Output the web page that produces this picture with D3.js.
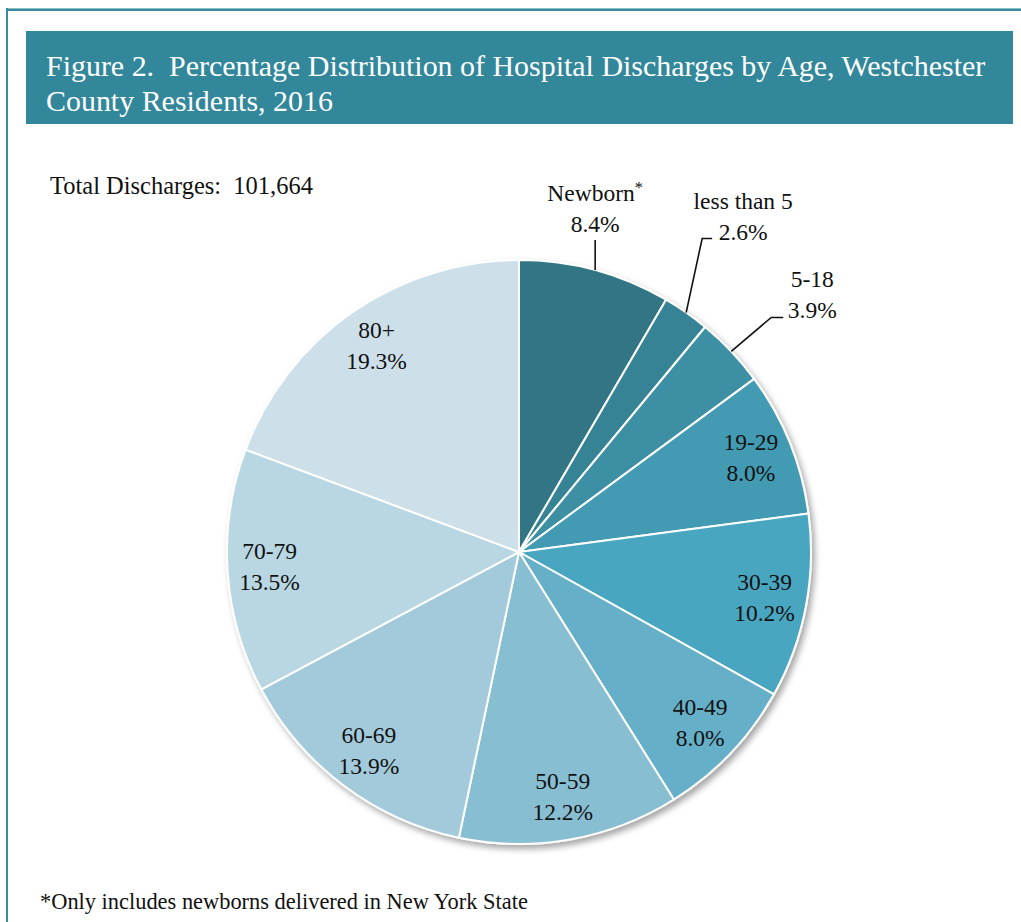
<!DOCTYPE html>
<html>
<head>
<meta charset="utf-8">
<script src="https://cdn.jsdelivr.net/npm/d3@7"></script>
<style>
  html, body { margin: 0; padding: 0; background: #fff; }
  svg { display: block; }
  text { font-family: "Liberation Serif", "DejaVu Serif", serif; }
</style>
</head>
<body>
<svg id="chart" width="1021" height="922"></svg>
<script>
// ---- data ----
const titleLines = ["Figure 2.  Percentage Distribution of Hospital Discharges by Age, Westchester", "County Residents, 2016"];
const totalLabel = "Total Discharges:  101,664";
const footnote = "*Only includes newborns delivered in New York State";
const categories = ["Newborn", "less than 5", "5-18", "19-29", "30-39", "40-49", "50-59", "60-69", "70-79", "80+"];
const values = [8.4, 2.6, 3.9, 8.0, 10.2, 8.0, 12.2, 13.9, 13.5, 19.3];
const sliceColors = ["#327686", "#368395", "#3c8fa4", "#429bb2", "#49a6c1", "#66afc8", "#88bed2", "#a3cadb", "#b9d7e2", "#cde0e9"];

// ---- layout ----
const W = 1021, H = 922;
const cx = 519, cy = 552, R = 292, labelR = 250;
const svg = d3.select("#chart");

const defs = svg.append("defs");
const f = defs.append("filter").attr("id", "shadow").attr("x", "-10%").attr("y", "-10%").attr("width", "125%").attr("height", "125%");
f.append("feDropShadow").attr("dx", 3).attr("dy", 4).attr("stdDeviation", 3).attr("flood-color", "#000").attr("flood-opacity", 0.35);

// frame
svg.append("line").attr("x1", 6).attr("x2", W).attr("y1", 8.5).attr("y2", 8.5).attr("stroke", "#8cc0cd").attr("stroke-width", 1);
svg.append("line").attr("x1", 6).attr("x2", W).attr("y1", 10).attr("y2", 10).attr("stroke", "#3a8a9e").attr("stroke-width", 2);
svg.append("line").attr("x1", 7).attr("x2", 7).attr("y1", 8).attr("y2", H).attr("stroke", "#3a8a9e").attr("stroke-width", 2);

// title bar
svg.append("rect").attr("x", 26).attr("y", 31).attr("width", 1013 - 26).attr("height", 124 - 31).attr("fill", "#33879b");

function fitText(sel, targetW) {
  const w = sel.node().getComputedTextLength();
  const fs = parseFloat(sel.attr("font-size"));
  const nfs = fs * targetW / w;
  sel.attr("font-size", nfs);
  return nfs;
}

const t1 = svg.append("text").attr("x", 46).attr("y", 76).attr("fill", "#fff").attr("font-size", 28)
  .style("white-space", "pre").text(titleLines[0]);
const tfs = fitText(t1, 940);
svg.append("text").attr("x", 46).attr("y", 111).attr("fill", "#fff").attr("font-size", tfs)
  .style("white-space", "pre").text(titleLines[1]);

const tot = svg.append("text").attr("x", 50).attr("y", 194).attr("fill", "#111").attr("font-size", 20)
  .style("white-space", "pre").text(totalLabel);
fitText(tot, 263);

const fn = svg.append("text").attr("x", 40).attr("y", 909).attr("fill", "#111").attr("font-size", 20)
  .style("white-space", "pre").text(footnote);
fitText(fn, 488);

// pie
const data = categories.map((c, i) => ({ cat: c, v: values[i], color: sliceColors[i], i }));
const pie = d3.pie().sort(null).value(d => d.v);
const arcs = pie(data);
const arc = d3.arc().innerRadius(0).outerRadius(R);
const labelArc = d3.arc().innerRadius(labelR).outerRadius(labelR);
const edgeArc = d3.arc().innerRadius(R).outerRadius(R);

const g = svg.append("g").attr("transform", `translate(${cx},${cy})`);
g.append("g").attr("filter", "url(#shadow)")
  .selectAll("path").data(arcs).join("path")
  .attr("d", arc).attr("fill", d => d.data.color)
  .attr("stroke", "#fff").attr("stroke-width", 2).attr("stroke-linejoin", "round");

const fsLabel = 23.5, lineGap = 31;
const fmt = d3.format(".1f");

// outside label layout (leader geometry, px)
const outside = {
  0: { leg: [0, -30], tail: 0, dx: 0, base: -8 },
  1: { leg: [16, -74], tail: 10, dx: 31, base: 1 },
  2: { leg: [40, -34], tail: 12, dx: 29, base: 1 }
};

const labels = g.append("g").attr("fill", "#111").attr("font-size", fsLabel).attr("text-anchor", "middle");
arcs.forEach(a => {
  const o = outside[a.data.i];
  let x, yName, yPct;
  if (o) {
    const [sx, sy] = edgeArc.centroid(a);
    const ex = sx + o.leg[0], ey = sy + o.leg[1];
    const tx = ex + o.tail;
    g.append("polyline").attr("points", `${sx},${sy} ${ex},${ey} ${tx},${ey}`)
      .attr("fill", "none").attr("stroke", "#111").attr("stroke-width", 1.6);
    x = tx + o.dx; yPct = ey + o.base; yName = yPct - lineGap;
  } else {
    const [lx, ly] = labelArc.centroid(a);
    x = lx; yName = ly - 9; yPct = ly + 22;
  }
  const tn = labels.append("text").attr("x", x).attr("y", yName).text(a.data.cat);
  if (a.data.i === 0) tn.append("tspan").attr("font-size", fsLabel * 0.7).attr("dy", -8).text("*");
  labels.append("text").attr("x", x).attr("y", yPct).text(fmt(a.data.v) + "%");
});
</script>
</body>
</html>
